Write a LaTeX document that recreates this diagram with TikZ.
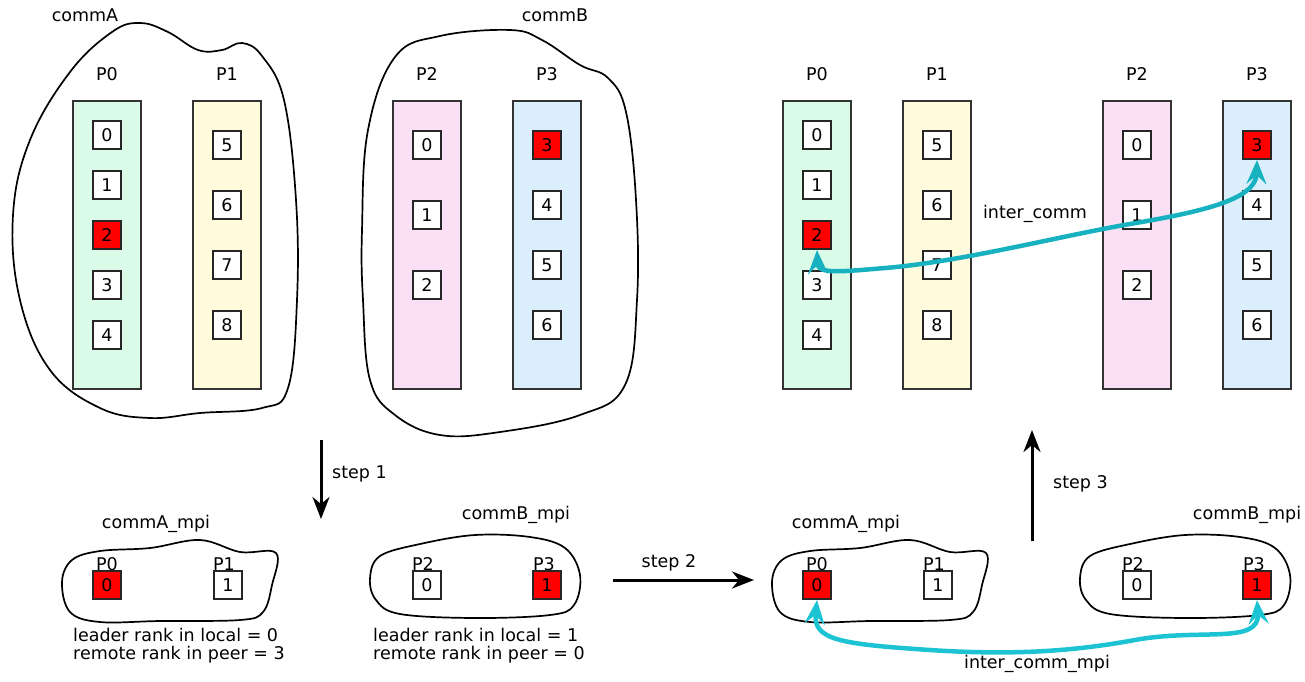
\documentclass[tikz,border=0pt]{standalone}
\usepackage{fontspec}
\setmainfont{DejaVu Sans}
\usetikzlibrary{arrows.meta}
\definecolor{cgreen}{HTML}{DAFBE8}
\definecolor{cyellow}{HTML}{FFFADC}
\definecolor{cpink}{HTML}{FBE0F5}
\definecolor{cblue}{HTML}{DAEEFB}
\definecolor{tealA}{HTML}{17B1C0}
\definecolor{tealB}{HTML}{1BC3D3}
\definecolor{edge}{HTML}{333333}
\begin{document}
\begin{tikzpicture}[x=1pt,y=-1pt,
  every node/.style={font=\fontsize{17.5}{21}\selectfont, inner sep=0pt},
  colbox/.style={draw=edge, line width=1.8pt, minimum width=68pt, minimum height=288pt},
  rk/.style={draw=black!85, line width=1.6pt, fill=white, minimum size=28.5pt},
  rkred/.style={rk, fill=red},
  blob/.style={draw=black, line width=1.7pt},
  lbl/.style={},
  steparrow/.style={line width=3pt, -{Stealth[length=22pt,width=17pt,inset=7pt]}},
  interarrow/.style={line width=4.5pt, {Stealth[length=24pt,width=20pt,inset=9pt]}-{Stealth[length=24pt,width=20pt,inset=9pt]}},
]
\useasboundingbox (0,0) rectangle (1305,681);

% ---------- top-left: commA ----------
\draw[blob] plot[smooth cycle, tension=0.65] coordinates {
 (13,215) (30,140) (70,72) (112,32) (140,23) (168,32) (198,50) (222,50) (242,43) (262,56) (284,100) (296,200) (297,300) (288,388) (262,408) (200,413) (150,418) (100,408) (50,370) (20,300)};
\node[lbl] (commA) at (85,15) {commA};
\node[colbox, fill=cgreen] (cA0) at (107,245) {};
\node[colbox, fill=cyellow] (cA1) at (227,245) {};
\node[lbl] (lA0) at (107,74) {P0};
\node[lbl] (lA1) at (227,74) {P1};
\node[rk] (a0) at (107,135) {0};
\node[rk] (a1) at (107,185) {1};
\node[rkred] (a2) at (107,235) {2};
\node[rk] (a3) at (107,285) {3};
\node[rk] (a4) at (107,335) {4};
\node[rk] (a5) at (227,145) {5};
\node[rk] (a6) at (227,205) {6};
\node[rk] (a7) at (227,265) {7};
\node[rk] (a8) at (227,325) {8};

% ---------- top-middle: commB ----------
\draw[blob] plot[smooth cycle, tension=0.65] coordinates {
 (362,230) (368,130) (395,57) (440,36) (510,30) (542,40) (580,65) (608,78) (626,112) (636,200) (637,300) (625,385) (580,415) (500,432) (440,435) (395,415) (370,380) (363,300)};
\node[lbl] (commB) at (555,15) {commB};
\node[colbox, fill=cpink] (cB2) at (427,245) {};
\node[colbox, fill=cblue] (cB3) at (547,245) {};
\node[lbl] (lB2) at (427,74) {P2};
\node[lbl] (lB3) at (547,74) {P3};
\node[rk] (b0) at (427,145) {0};
\node[rk] (b1) at (427,215) {1};
\node[rk] (b2) at (427,285) {2};
\node[rkred] (b3) at (547,145) {3};
\node[rk] (b4) at (547,205) {4};
\node[rk] (b5) at (547,265) {5};
\node[rk] (b6) at (547,325) {6};

% ---------- top-right: inter_comm ----------
\node[colbox, fill=cgreen] (tcA0) at (817,245) {};
\node[colbox, fill=cyellow] (tcA1) at (937,245) {};
\node[colbox, fill=cpink] (tcB2) at (1137,245) {};
\node[colbox, fill=cblue] (tcB3) at (1257,245) {};
\node[lbl] (tl0) at (817,74) {P0};
\node[lbl] (tl1) at (937,74) {P1};
\node[lbl] (tl2) at (1137,74) {P2};
\node[lbl] (tl3) at (1257,74) {P3};
\node[rk] (ta0) at (817,135) {0};
\node[rk] (ta1) at (817,185) {1};
\node[rkred] (ta2) at (817,235) {2};
\node[rk] (ta3) at (817,285) {3};
\node[rk] (ta4) at (817,335) {4};
\node[rk] (ta5) at (937,145) {5};
\node[rk] (ta6) at (937,205) {6};
\node[rk] (ta7) at (937,265) {7};
\node[rk] (ta8) at (937,325) {8};
\node[rk] (tb0) at (1137,145) {0};
\node[rk] (tb1) at (1137,215) {1};
\node[rk] (tb2) at (1137,285) {2};
\node[rkred] (tb3) at (1257,145) {3};
\node[rk] (tb4) at (1257,205) {4};
\node[rk] (tb5) at (1257,265) {5};
\node[rk] (tb6) at (1257,325) {6};
\node[lbl] (intercomm) at (1035,214) {inter\_comm};
\draw[interarrow, draw=tealA]
  (ta2.south) .. controls (818,274) and (838,272) .. (885,268)
  .. controls (960,262) and (1060,236) .. (1130,224)
  .. controls (1200,212) and (1256,200) .. (tb3.south);

% ---------- step 1 ----------
\coordinate (s1a) at (321,440);
\coordinate (s1b) at (321,519);
\draw[steparrow] (s1a) -- (s1b);
\node[lbl, anchor=west] (step1) at (332,474) {step 1};

% ---------- bottom-left: commA_mpi / commB_mpi ----------
\node[lbl] (cAm) at (156,524) {commA\_mpi};
\draw[blob] plot[smooth cycle, tension=0.6] coordinates {
 (62,582) (72,560) (100,551) (150,548) (200,540) (240,552) (276,553) (272,585) (263,612) (240,620) (160,621) (100,622) (70,612)};
\node[rkred] (ma0) at (107,585) {0};
\node[rk] (ma1) at (228,585) {1};
\node[lbl] (mlA0) at (107,564) {P0};
\node[lbl] (mlA1) at (224,564) {P1};
\node[lbl, anchor=west] (leadA) at (73,635) {leader rank in local = 0};
\node[lbl, anchor=west] (remA) at (73,655) {remote rank in peer = 3};

\node[lbl] (cBm) at (516,515) {commB\_mpi};
\draw[blob] plot[smooth cycle, tension=0.6] coordinates {
 (370,578) (380,556) (420,544) (475,535) (530,537) (565,548) (580,575) (574,605) (550,615) (475,618) (400,614) (376,600)};
\node[rk] (mb0) at (427,585) {0};
\node[rkred] (mb1) at (547,585) {1};
\node[lbl] (mlB2) at (423,564) {P2};
\node[lbl] (mlB3) at (544,564) {P3};
\node[lbl, anchor=west] (leadB) at (373,635) {leader rank in local = 1};
\node[lbl, anchor=west] (remB) at (373,655) {remote rank in peer = 0};

% ---------- step 2 ----------
\coordinate (s2a) at (613,580);
\coordinate (s2b) at (754,580);
\draw[steparrow] (s2a) -- (s2b);
\node[lbl] (step2) at (669,563) {step 2};

% ---------- bottom-right ----------
\node[lbl] (cAm2) at (846,524) {commA\_mpi};
\draw[blob] plot[smooth cycle, tension=0.6] coordinates {
 (772,582) (782,560) (810,551) (860,548) (910,540) (950,552) (986,553) (982,585) (973,612) (950,620) (870,621) (810,622) (780,612)};
\node[rkred] (na0) at (817,585) {0};
\node[rk] (na1) at (938,585) {1};
\node[lbl] (nlA0) at (817,564) {P0};
\node[lbl] (nlA1) at (934,564) {P1};

\node[lbl] (cBm2) at (1247,515) {commB\_mpi};
\draw[blob] plot[smooth cycle, tension=0.6] coordinates {
 (1080,578) (1090,556) (1130,544) (1185,535) (1240,537) (1275,548) (1290,575) (1284,605) (1260,615) (1185,618) (1110,614) (1086,600)};
\node[rk] (nb0) at (1137,585) {0};
\node[rkred] (nb1) at (1257,585) {1};
\node[lbl] (nlB2) at (1133,564) {P2};
\node[lbl] (nlB3) at (1254,564) {P3};

\draw[interarrow, draw=tealB]
  (na0.south) .. controls (813,640) and (840,644) .. (930,650)
  .. controls (1020,656) and (1080,650) .. (1135,640)
  .. controls (1200,628) and (1260,645) .. (nb1.south);
\node[lbl] (intermpi) at (1037,664) {inter\_comm\_mpi};

% ---------- step 3 ----------
\coordinate (s3a) at (1032,541);
\coordinate (s3b) at (1032,430);
\draw[steparrow] (s3a) -- (s3b);
\node[lbl, anchor=west] (step3) at (1053,484) {step 3};
\end{tikzpicture}
\end{document}
